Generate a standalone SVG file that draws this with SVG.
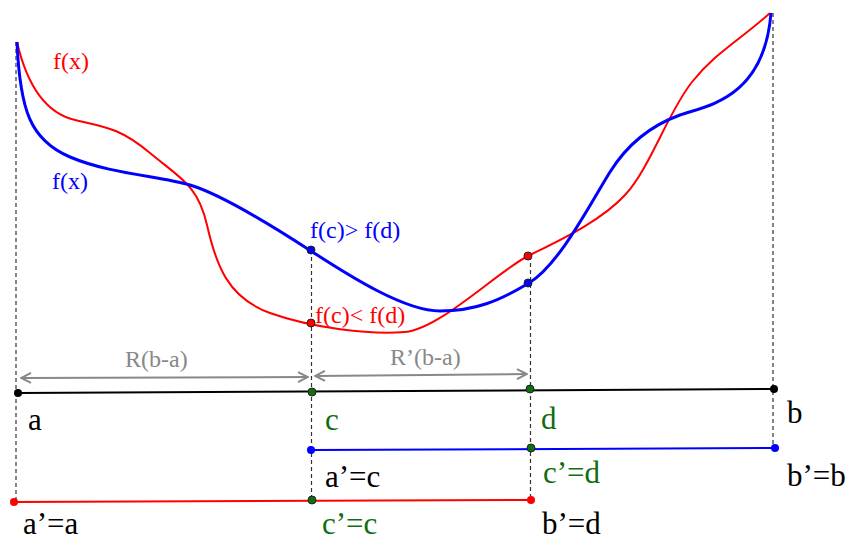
<svg xmlns="http://www.w3.org/2000/svg" width="850" height="540" viewBox="0 0 850 540">
<style>
text{font-family:"Liberation Serif","Times New Roman",serif}
.lbl{font-size:24px}
.big{font-size:31px}
.dash{stroke:#333;stroke-width:1.2;stroke-dasharray:4,3;fill:none}
.gray{stroke:#888;stroke-width:2;fill:none}
.k{fill:#000}.g{fill:#0f6e0f}.bl{fill:#0000ff}.rd{fill:#ff0000}.gr{fill:#888}
.dot{stroke:#222;stroke-width:1}
</style>
<defs>
<marker id="ah" viewBox="0 0 12 12" refX="11" refY="6" markerWidth="12" markerHeight="12" markerUnits="userSpaceOnUse" orient="auto-start-reverse">
<path d="M1,1 L11,6 L1,11" fill="none" stroke="#888" stroke-width="2"/>
</marker>
</defs>
<g id="guides">
<line class="dash" x1="16" y1="42" x2="16" y2="502"/>
<line class="dash" x1="311.5" y1="250" x2="311.5" y2="500"/>
<line class="dash" x1="530.5" y1="256" x2="530.5" y2="500"/>
<line class="dash" x1="773" y1="13" x2="773" y2="448"/>
</g>
<g id="curves">
<path id="red-curve" fill="none" stroke="#ff0000" stroke-width="2" d="M17,42 C27,85 45,113 75,120 S120,128 150,153 S198,185 207,225 S228,298 270,313 C312,328 370,335 405,332 C440,329 498,271 528,256 C558,241 600,222 625,195 C650,168 668,112 692,82 S740,40 770,13"/>
<path id="blue-curve" fill="none" stroke="#0000ff" stroke-width="3" d="M17,42 C20,110 30,140 70,157 S160,176 190,185 S271,225 311,251 S405,311 440,311 S499,301 529,283 S590,204 610,172 S655,124 680,115 S764,100 771,13"/>
</g>
<g id="connectors">
<line class="gray" x1="21" y1="378" x2="308" y2="377" marker-start="url(#ah)" marker-end="url(#ah)"/>
<line class="gray" x1="315" y1="376" x2="527" y2="374" marker-start="url(#ah)" marker-end="url(#ah)"/>
<line x1="18" y1="393" x2="774" y2="389" stroke="#000" stroke-width="2"/>
<line x1="311" y1="450" x2="775" y2="448" stroke="#0000ff" stroke-width="2"/>
<line x1="14" y1="502" x2="531" y2="500" stroke="#ff0000" stroke-width="2"/>
</g>
<g id="points">
<circle class="bl dot" cx="311" cy="250" r="4"/>
<circle class="rd dot" cx="311" cy="323" r="4"/>
<circle class="rd dot" cx="528" cy="256" r="4"/>
<circle class="bl dot" cx="528" cy="283" r="4"/>
<circle class="k" cx="18" cy="393" r="4"/>
<circle class="g dot" cx="312" cy="392" r="4"/>
<circle class="g dot" cx="530" cy="389" r="4"/>
<circle class="k" cx="774" cy="389" r="4"/>
<circle class="bl" cx="311" cy="450" r="4"/>
<circle class="g dot" cx="531" cy="448" r="4"/>
<circle class="bl" cx="775" cy="448" r="4"/>
<circle class="rd" cx="14" cy="502" r="4"/>
<circle class="g dot" cx="312" cy="500" r="4"/>
<circle class="rd" cx="531" cy="500" r="4"/>
</g>
<g id="labels">
<text class="lbl rd" x="53" y="69">f(x)</text>
<text class="lbl bl" x="52" y="189">f(x)</text>
<text class="lbl bl" x="310" y="238">f(c)&gt; f(d)</text>
<text class="lbl rd" x="315" y="323">f(c)&lt; f(d)</text>
<text class="lbl gr" x="125" y="367">R(b-a)</text>
<text class="lbl gr" x="390" y="365">R’(b-a)</text>
<text class="big k" x="28" y="430">a</text>
<text class="big g" x="325" y="430">c</text>
<text class="big g" x="541" y="429">d</text>
<text class="big k" x="787" y="423">b</text>
<text class="big k" x="325" y="487">a’=c</text>
<text class="big g" x="543" y="483">c’=d</text>
<text class="big k" x="787" y="486">b’=b</text>
<text class="big k" x="23" y="534">a’=a</text>
<text class="big g" x="322" y="534">c’=c</text>
<text class="big k" x="542" y="534">b’=d</text>
</g>
</svg>
